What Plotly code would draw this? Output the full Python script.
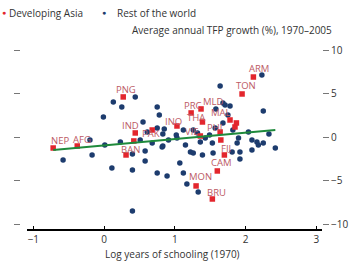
import plotly.graph_objects as go

# Rest of the world: log years of schooling (1970), avg TFP growth (%)
row_x = [0.13, 0.44, 0.25, 0.75, -0.01, 0.78, 0.55, 0.85, -0.20, -0.58, -0.17, 0.01, 0.23,
         0.11, 0.40, 0.58, 0.58, 0.82, 0.68, 0.91, 0.51, 0.61, 0.40, 0.40, 0.75, 0.89, 1.07,
         1.12, 1.17, 1.33, 0.75, 0.83, 1.02, 1.12, 0.83, 1.15, 1.22, 1.26, 1.39, 1.36, 1.43,
         1.53, 1.54, 1.49, 1.57, 1.68, 1.75, 1.82, 1.90, 1.88, 1.81, 1.92, 2.04, 2.09, 2.16,
         2.18, 2.25, 2.09, 1.92, 1.32, 1.64, 2.25, 2.23, 1.68, 1.78, 1.58, 2.33, 2.42, 1.03,
         1.26, 1.71]
row_y = [4.08, 4.66, 3.51, 3.51, 2.36, 2.59, 1.78, 0.98, -0.29, -2.59, -2.01, -0.86, -0.52,
         -3.51, -3.74, -2.70, -1.55, -1.09, -0.63, -0.29, -0.29, 0.63, -8.45, -1.90, -4.08,
         -4.43, -2.93, -4.08, -5.34, -6.26, 1.09, 0.40, 0.29, 0.86, -0.98, -0.86, -1.67, -1.78,
         -2.01, -0.52, -0.06, -0.63, -1.78, 0.29, 1.09, 1.67, 2.59, 0.86, -0.06, -0.63, -1.67,
         -1.67, 0.63, -0.29, -0.52, -0.86, -0.63, -1.44, -2.47, 0.52, 5.92, 3.05, 7.18, 3.97,
         3.62, 3.28, 0.40, -1.21, -0.06, 0.86, 3.74]

# Developing Asia
asia_names = ["NEP", "AFG", "PNG", "IND", "", "PAK", "BAN", "INO", "PRC", "THA", "MLD",
              "MAL", "", "", "VIE", "PHI", "", "FIJ", "CAM", "MON", "BRU", "ARM", "TON"]
asia_x = [-0.72, -0.38, 0.27, 0.44, 0.42, 0.68, 0.31, 1.03, 1.23, 1.39, 1.37,
          1.78, 1.85, 1.87, 1.36, 1.64, 1.65, 1.70, 1.60, 1.30, 1.53, 2.11, 1.95]
asia_y = [-1.21, -0.98, 4.66, 0.52, -0.40, 0.86, -2.01, 1.32, 2.82, 1.78, 3.28,
          2.01, 1.21, 1.67, 0.17, 0.63, -0.29, -2.01, -3.85, -5.57, -7.07, 6.95, 5.00]

# label offsets in pixels (dx, dy)
label_off = {
    "NEP": (7, 8), "AFG": (5, 7), "PNG": (3, 7), "IND": (-5, 7), "PAK": (-1, -3),
    "BAN": (4, 5), "INO": (-3, 4), "PRC": (2, 7), "THA": (-6, 4), "MLD": (12, 7),
    "MAL": (-9, 7), "VIE": (-8, 5), "PHI": (-6, 5), "FIJ": (2, 6), "CAM": (4, 8),
    "MON": (4, 9), "BRU": (4, 6), "ARM": (6, 9), "TON": (4, 8),
}

fit_x = [-0.72, 2.42]
fit_y = [-1.44, 0.86]

y_ticks = [-10, -5, 0, 5, 10]
x_ticks = [-1, 0, 1, 2, 3]

BLUE = "#1d3c6e"
RED = "#e3262d"
LABEL = "#bc5a64"
GREEN = "#1f8a3c"
FONT = "Open Sans"

fig = go.Figure()
fig.add_trace(go.Scatter(x=row_x, y=row_y, mode="markers", name="Rest of the world",
                         marker=dict(color=BLUE, size=5.5), showlegend=False))
fig.add_trace(go.Scatter(x=asia_x, y=asia_y, mode="markers", name="Developing Asia",
                         marker=dict(color=RED, size=5.5, symbol="square"), showlegend=False))
fig.add_trace(go.Scatter(x=fit_x, y=fit_y, mode="lines", line=dict(color=GREEN, width=2),
                         showlegend=False))
fig.add_trace(go.Scatter(x=[None], y=[None], yaxis="y2", showlegend=False, hoverinfo="skip"))

ann = []
for n, x, y in zip(asia_names, asia_x, asia_y):
    if not n:
        continue
    dx, dy = label_off[n]
    ann.append(dict(x=x, y=y, text=n, showarrow=False, xshift=dx, yshift=dy,
                    font=dict(family=FONT, size=9.5, color=LABEL)))

# legend as text
ann += [
    dict(xref="paper", yref="paper", x=-0.032, y=1.174, text="<span style='color:%s'>●</span>" % RED,
         showarrow=False, xanchor="left", yanchor="middle", font=dict(family=FONT, size=7)),
    dict(xref="paper", yref="paper", x=-0.01, y=1.174, text="Developing Asia",
         showarrow=False, xanchor="left", yanchor="middle", font=dict(family=FONT, size=10, color="#333")),
    dict(xref="paper", yref="paper", x=0.29, y=1.174, text="<span style='color:%s'>●</span>" % BLUE,
         showarrow=False, xanchor="left", yanchor="middle", font=dict(family=FONT, size=7)),
    dict(xref="paper", yref="paper", x=0.335, y=1.174, text="Rest of the world",
         showarrow=False, xanchor="left", yanchor="middle", font=dict(family=FONT, size=10, color="#333")),
    dict(xref="paper", yref="paper", x=1.04, y=1.08, text="Average annual TFP growth (%), 1970–2005",
         showarrow=False, xanchor="right", yanchor="middle", font=dict(family=FONT, size=10, color="#333")),
    dict(xref="paper", yref="paper", x=0.52, y=-0.135, text="Log years of schooling (1970)",
         showarrow=False, xanchor="center", yanchor="middle", font=dict(family=FONT, size=10, color="#333")),
]

fig.update_layout(
    width=352, height=262,
    margin=dict(l=10, r=30, t=45, b=33),
    paper_bgcolor="white", plot_bgcolor="white",
    font=dict(family=FONT, size=10, color="#333"),
    xaxis=dict(domain=[0.0545, 1], range=[-1.09, 3.08], tickvals=x_ticks, automargin=False,
               showline=True, linecolor="black", linewidth=2, ticks="inside", ticklen=3,
               tickcolor="black", showgrid=False, zeroline=False),
    yaxis=dict(range=[-10.52, 10.63], side="right", tickvals=y_ticks, ticks="outside",
               automargin=False,
               ticklen=6, tickcolor="#777", showline=False, showgrid=False, zeroline=False),
    yaxis2=dict(range=[-10.52, 10.63], overlaying="y", anchor="free", position=0.032,
                side="left", tickvals=y_ticks, ticks="outside", ticklen=6, tickcolor="#777",
                automargin=False,
                showticklabels=False, showline=False, showgrid=False, zeroline=False),
    annotations=ann,
)

fig.write_html("out.html", config={"displayModeBar": False},
               post_script="document.body.style.margin='0';")
